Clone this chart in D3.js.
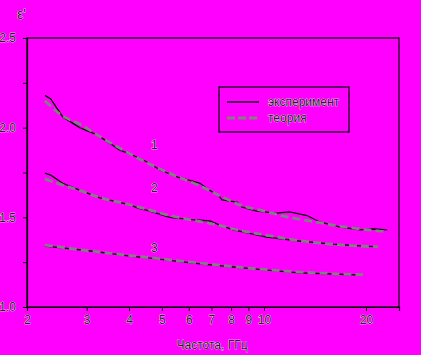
<!DOCTYPE html>
<html><head><meta charset="utf-8">
<script src="https://cdn.jsdelivr.net/npm/d3@7"></script>
<style>
html,body{margin:0;padding:0;background:#ff00ff;}
text{font-family:"Liberation Sans",Arial,sans-serif;font-size:12px;fill:#222;stroke:#fff;stroke-width:0.6px;paint-order:stroke;}
</style></head>
<body>
<script>
const exp1F = [2.26,2.35,2.55,2.86,3.22,3.76,4.03,4.51,4.94,5.64,5.84,6.48,6.92,7.33,7.52,8.33,8.62,9.53,10.9,11.9,13.4,14.6,16.8,19.2,21.0,23.1];
const exp1V = [2.18,2.16,2.06,2.00,1.96,1.875,1.853,1.81,1.764,1.72,1.714,1.69,1.65,1.625,1.597,1.585,1.557,1.535,1.524,1.53,1.51,1.474,1.446,1.43,1.435,1.43];
const th1F = [2.26,2.55,2.86,3.22,3.76,4.51,5.27,6.48,7.52,8.62,10,11.9,14.6,16.8,19.2,21.7,23.1];
const th1V = [2.15,2.065,2.02,1.96,1.885,1.805,1.745,1.675,1.615,1.565,1.535,1.50,1.47,1.45,1.435,1.425,1.42];
const exp2F = [2.26,2.35,2.55,2.86,3.28,4.03,4.25,4.61,5.27,6.34,6.92,7.41,8.12,10.2,12.7,15.9,21.7];
const exp2V = [1.747,1.735,1.69,1.652,1.608,1.569,1.552,1.535,1.50,1.485,1.48,1.457,1.43,1.39,1.368,1.351,1.335];
const th2F = [2.26,2.55,2.86,3.28,4.03,4.61,5.27,6.34,7.41,8.12,10.2,12.7,15.9,21.7];
const th2V = [1.714,1.68,1.65,1.61,1.57,1.54,1.51,1.48,1.455,1.435,1.40,1.37,1.35,1.335];
const exp3F = [2.26,3,4.03,4.61,6.48,8.12,10.2,12.7,15.9,19.6];
const exp3V = [1.34,1.315,1.284,1.273,1.24,1.223,1.206,1.19,1.184,1.178];
const th3F = [2.26,3,4.03,4.61,6.48,8.12,10.2,12.7,15.9,19.6];
const th3V = [1.345,1.315,1.287,1.275,1.245,1.225,1.208,1.195,1.186,1.18];
const xTicks = [2,3,4,5,6,7,8,9,10,20];
const xTickLabels = ["2","3","4","5","6","7","8","9","10","20"];
const yTicks = [1.0,1.25,1.5,1.75,2.0,2.25,2.5];
const yTickLabels = ["1.0","","1.5","","2.0","","2.5"];
const curveLabels = ["1","2","3"];
const curveLabelPos = [[4.75,1.905],[4.75,1.665],[4.75,1.33]];
const legendLabels = ["эксперимент","теория"];

const W=421,H=355;
const svg=d3.select("body").append("svg").attr("width",W).attr("height",H);
svg.append("rect").attr("width",W).attr("height",H).attr("fill","#ff00ff");
const L=27,R=399,T=38,B=307;
const x=d3.scaleLog().domain([2,2*Math.pow(10,(R-L)/339)]).range([L,R]);
const y=d3.scaleLinear().domain([1,2.5]).range([B,T]);

svg.append("rect").attr("x",L).attr("y",T).attr("width",R-L).attr("height",B-T)
  .attr("fill","none").attr("stroke","#000").attr("stroke-width",1.2);

const xa=svg.append("g").attr("transform",`translate(0,${B})`)
  .call(d3.axisBottom(x).tickValues(xTicks).tickFormat((d,i)=>xTickLabels[i]).tickSize(4).tickPadding(4));
const ya=svg.append("g").attr("transform",`translate(${L},0)`)
  .call(d3.axisLeft(y).tickValues(yTicks).tickFormat((d,i)=>yTickLabels[i]).tickSize(4).tickPadding(7));
[xa,ya].forEach(a=>{a.select(".domain").attr("stroke","#000").attr("stroke-width",1.2);
  a.selectAll(".tick line").attr("stroke","#000");
  a.selectAll("text").attr("font-family",null).attr("font-size",null).attr("fill",null);});

const line=d3.line().x(d=>x(d[0])).y(d=>y(d[1]));
const zip=(a,b)=>a.map((v,i)=>[v,b[i]]);
const exps=[[exp1F,exp1V],[exp2F,exp2V],[exp3F,exp3V]];
const ths=[[th1F,th1V],[th2F,th2V],[th3F,th3V]];
exps.forEach(([f,v])=>svg.append("path").datum(zip(f,v)).attr("d",line)
  .attr("fill","none").attr("stroke","#000").attr("stroke-width",1.3));
ths.forEach(([f,v])=>svg.append("path").datum(zip(f,v)).attr("d",line.curve(d3.curveMonotoneX))
  .attr("fill","none").attr("stroke","#808080").attr("stroke-width",2.8).attr("stroke-dasharray","8,4"));

curveLabels.forEach((t,i)=>svg.append("text").attr("x",x(curveLabelPos[i][0])).attr("y",y(curveLabelPos[i][1]))
  .attr("text-anchor","middle").attr("dy","0.35em").text(t));

svg.append("rect").attr("x",219).attr("y",87).attr("width",130).attr("height",45)
  .attr("fill","none").attr("stroke","#000").attr("stroke-width",1.2);
svg.append("line").attr("x1",227).attr("x2",259).attr("y1",102).attr("y2",102).attr("stroke","#000").attr("stroke-width",1.3);
svg.append("line").attr("x1",227).attr("x2",259).attr("y1",118).attr("y2",118).attr("stroke","#808080").attr("stroke-width",2.8).attr("stroke-dasharray","8,3");
legendLabels.forEach((t,i)=>svg.append("text").attr("x",268).attr("y",102+i*16).attr("dy","0.35em").text(t));

svg.append("text").attr("x",212).attr("y",345).attr("text-anchor","middle").attr("dy","0.35em").text("Частота, ГГц");
svg.append("text").attr("x",17).attr("y",14).attr("dy","0.35em").style("font-size","14px").text("ε'");
</script>
</body></html>
